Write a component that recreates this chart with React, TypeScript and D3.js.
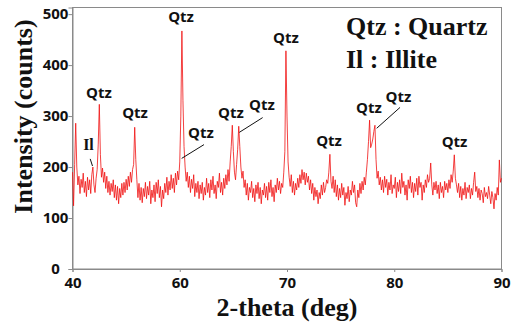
import React, { useEffect, useRef } from 'react'
import * as d3 from 'd3'

// tick labels on the x axis are evenly spaced in the original figure
const xTicks = [40, 60, 70, 80, 90]
const yTicks = [0, 100, 200, 300, 400, 500]

// counts from 40.0 deg, every 0.2 deg (40 -> 59.8)
const countsLow = [
  190, 124, 205, 286, 200, 165, 182, 148, 176, 160,
  188, 150, 172, 142, 180, 155, 175, 148, 185, 200,
  165, 150, 178, 195, 245, 323, 225, 180, 198, 170,
  190, 158, 182, 150, 172, 145, 168, 152, 175, 140,
  165, 135, 162, 128, 158, 140, 168, 145, 170, 150,
  176, 155, 182, 162, 190, 170, 195, 205, 278, 215,
  175, 140, 168, 135, 160, 130, 158, 142, 170, 138,
  162, 145, 172, 128, 155, 140, 165, 132, 170, 148,
  175, 140, 162, 122, 155, 138, 168, 150, 180, 145,
  172, 155, 185, 158, 178, 150, 188, 165, 192, 175
]

// counts from 60.0 deg, every 0.1 deg (60 -> 90)
const countsHigh = [
  210, 300, 467, 330, 240, 200, 172, 190, 160, 182,
  150, 176, 158, 185, 142, 168, 150, 172, 138, 165,
  148, 170, 135, 160, 145, 178, 150, 168, 140, 175,
  155, 182, 148, 165, 138, 172, 160, 188, 150, 170,
  145, 178, 158, 185, 165, 195, 172, 210, 240, 282,
  230, 190, 175, 205, 235, 280, 240, 200, 178, 192,
  160, 175, 145, 168, 135, 160, 150, 172, 140, 158,
  132, 165, 148, 170, 138, 160, 128, 155, 145, 168,
  140, 162, 135, 170, 150, 175, 142, 160, 132, 165,
  150, 178, 155, 172, 148, 168, 160, 190, 230, 428,
  300, 210, 180, 162, 185, 150, 172, 145, 168, 155,
  178, 160, 185, 168, 195, 175, 190, 165, 188, 170,
  182, 155, 175, 148, 168, 135, 160, 142, 155, 128,
  150, 138, 165, 145, 170, 150, 160, 175, 168, 190,
  225, 172, 158, 182, 150, 175, 142, 165, 135, 158,
  140, 168, 145, 160, 125, 150, 138, 162, 132, 155,
  145, 172, 150, 165, 130, 122, 155, 140, 168, 148,
  172, 155, 180, 165, 190, 215, 250, 292, 238, 245,
  255, 270, 282, 215, 178, 192, 165, 180, 155, 175,
  150, 182, 160, 176, 145, 170, 155, 185, 148, 165,
  158, 180, 140, 170, 152, 175, 148, 188, 160, 172,
  145, 165, 135, 175, 158, 182, 150, 170, 140, 168,
  152, 178, 145, 182, 160, 170, 135, 165, 150, 175,
  160, 185, 170, 178, 208, 165, 145, 170, 155, 172,
  148, 165, 138, 170, 150, 162, 140, 172, 155, 168,
  150, 175, 158, 185, 170, 192, 224, 178, 165, 150,
  168, 140, 162, 135, 158, 145, 170, 138, 160, 150,
  165, 138, 158, 145, 170, 190, 152, 162, 140, 158,
  135, 155, 148, 130, 160, 142, 150, 138, 162, 145,
  128, 152, 140, 118, 148, 135, 160, 145, 214, 170,
  178
]

// peak labels: text, anchor (2-theta, counts)
const peakLabels: { text: string; theta: number; counts: number; serif?: boolean }[] = [
  { text: 'Qtz', theta: 44.94, counts: 335 },
  { text: 'Il', theta: 42.98, counts: 233, serif: true },
  { text: 'Qtz', theta: 51.66, counts: 296 },
  { text: 'Qtz', theta: 60.12, counts: 484 },
  { text: 'Qtz', theta: 61.98, counts: 257 },
  { text: 'Qtz', theta: 64.78, counts: 296 },
  { text: 'Qtz', theta: 67.67, counts: 312 },
  { text: 'Qtz', theta: 69.9, counts: 444 },
  { text: 'Qtz', theta: 73.92, counts: 241 },
  { text: 'Qtz', theta: 77.64, counts: 306 },
  { text: 'Qtz', theta: 80.39, counts: 328 },
  { text: 'Qtz', theta: 85.62, counts: 239 }
]

// leader lines [theta1, counts1, theta2, counts2]
const leaders: [number, number, number, number][] = [
  [43.3, 216, 43.73, 202],
  [60.18, 217, 62.26, 244],
  [65.55, 268, 67.73, 297],
  [78.36, 276, 80.54, 317]
]

const legendLines = ['Qtz : Quartz', 'Il : Illite']

const App = () => {
  const svgRef = useRef<SVGSVGElement>(null)

  useEffect(() => {
    const width = 513
    const height = 326
    const left = 72.5
    const right = 501.5
    const top = 7.5
    const bottom = 269
    const serif = '"Liberation Serif", "Times New Roman", serif'
    const sans = '"Open Sans", "Noto Sans", sans-serif'
    const axisGrey = '#8a8a8a'

    const scan: [number, number][] = [
      ...countsLow.map((c, i) => [40 + i * 0.2, c] as [number, number]),
      ...countsHigh.map((c, i) => [60 + i * 0.1, c] as [number, number])
    ]

    const svg = d3.select(svgRef.current)
    svg.selectAll('*').remove()
    svg.attr('width', width).attr('height', height)

    const x = d3.scaleLinear()
      .domain(xTicks)
      .range(xTicks.map((_, i) => left + (i * (right - left)) / (xTicks.length - 1)))
    const y = d3.scaleLinear().domain([0, 513]).range([bottom, top])

    // frame
    svg.append('rect')
      .attr('x', left).attr('y', top)
      .attr('width', right - left).attr('height', bottom - top)
      .attr('fill', 'none').attr('stroke', axisGrey).attr('stroke-width', 1)

    const yAxis = svg.append('g')
      .attr('transform', `translate(${left},0)`)
      .call(d3.axisLeft(y).tickValues(yTicks).tickSize(4).tickPadding(1))
    const xAxis = svg.append('g')
      .attr('transform', `translate(0,${bottom})`)
      .call(d3.axisBottom(x).tickValues(xTicks).tickSize(3).tickPadding(5).tickFormat(d3.format('d')))
    for (const g of [xAxis, yAxis]) {
      g.select('.domain').attr('stroke', axisGrey)
      g.selectAll('.tick line').attr('stroke', axisGrey)
      g.selectAll('.tick text')
        .attr('fill', '#111')
        .style('font-family', sans)
        .style('font-weight', 700)
        .style('font-size', '15px')
    }
    // y labels are centred in the original
    yAxis.selectAll('.tick text').attr('text-anchor', 'middle').attr('x', -17)

    // scan line
    const line = d3.line<[number, number]>()
      .x(d => x(d[0]))
      .y(d => y(d[1]))
    svg.append('path')
      .datum(scan)
      .attr('d', line)
      .attr('fill', 'none')
      .attr('stroke', '#f01010')
      .attr('stroke-width', 0.8)
      .attr('stroke-linejoin', 'round')

    // leaders
    svg.selectAll('.leader')
      .data(leaders)
      .join('line')
      .attr('x1', d => x(d[0])).attr('y1', d => y(d[1]))
      .attr('x2', d => x(d[2])).attr('y2', d => y(d[3]))
      .attr('stroke', '#111').attr('stroke-width', 1)

    // peak labels
    svg.selectAll('.peak')
      .data(peakLabels)
      .join('text')
      .attr('x', d => x(d.theta))
      .attr('y', d => y(d.counts))
      .attr('text-anchor', 'middle')
      .attr('fill', '#111')
      .style('font-family', d => (d.serif ? serif : sans))
      .style('font-weight', 700)
      .style('font-size', d => (d.serif ? '16px' : '15px'))
      .text(d => d.text)

    // legend
    svg.selectAll('.legend')
      .data(legendLines)
      .join('text')
      .attr('x', 346)
      .attr('y', (_, i) => 35 + i * 33)
      .attr('fill', '#111')
      .style('font-family', serif)
      .style('font-weight', 700)
      .style('font-size', '26px')
      .text(d => d)

    // axis titles
    svg.append('text')
      .attr('transform', `translate(32,116.5) rotate(-90)`)
      .attr('text-anchor', 'middle')
      .attr('fill', '#111')
      .style('font-family', serif)
      .style('font-weight', 700)
      .style('font-size', '26px')
      .text('Intensity (counts)')
    svg.append('text')
      .attr('x', 287)
      .attr('y', 316)
      .attr('text-anchor', 'middle')
      .attr('fill', '#111')
      .style('font-family', serif)
      .style('font-weight', 700)
      .style('font-size', '26px')
      .text('2-theta (deg)')
  }, [])

  return (
    <div style={{ position: 'absolute', left: 0, top: 0 }}>
      <svg ref={svgRef}></svg>
    </div>
  )
}

export default App
